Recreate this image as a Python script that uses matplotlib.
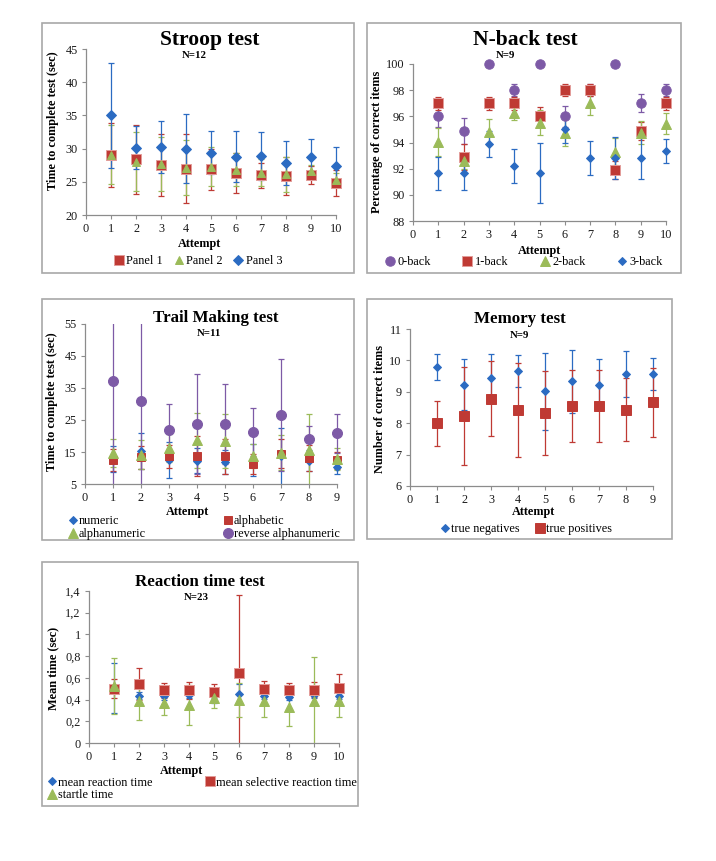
import matplotlib
matplotlib.use('Agg')
import matplotlib.pyplot as plt
from matplotlib.patches import Rectangle
from matplotlib.lines import Line2D

W, H = 716, 861
plt.rcParams['font.family'] = ['Liberation Serif', 'DejaVu Serif']

# ---------------- data ----------------
stroop_x = [1, 2, 3, 4, 5, 6, 7, 8, 9, 10]
stroop_p1 = [29.0, 28.4, 27.55, 27.0, 26.9, 26.3, 26.0, 25.9, 26.0, 24.8]
stroop_p1_err = [4.8, 5.2, 4.65, 5.2, 3.1, 3.0, 1.9, 2.9, 1.4, 2.0]
stroop_p2 = [29.1, 28.05, 27.65, 27.15, 27.3, 26.8, 26.4, 26.1, 26.6, 25.25]
stroop_p2_err = [4.5, 4.4, 4.1, 4.2, 2.9, 2.5, 2.0, 2.6, 1.0, 1.1]
stroop_p3 = [35.0, 30.15, 30.25, 29.95, 29.4, 28.8, 28.85, 27.8, 28.7, 27.35]
stroop_p3_err = [7.9, 3.2, 3.9, 5.2, 3.2, 3.8, 3.6, 3.3, 2.7, 2.9]

nback_x = [1, 2, 3, 4, 5, 6, 7, 8, 9, 10]
nback_0 = [96.0, 94.9, 100, 98.0, 100, 96.0, 98.0, 100, 97.0, 98.0]
nback_0_err = [0.8, 1.0, 0, 0.45, 0, 0.8, 0.45, 0, 0.7, 0.45]
nback_1 = [97.0, 92.9, 97.0, 97.0, 96.0, 98.0, 98.0, 91.9, 94.9, 97.0]
nback_1_err = [0.5, 1.0, 0.5, 0.5, 0.75, 0.45, 0.45, 0.7, 0.7, 0.5]
nback_2 = [94.05, 92.6, 94.8, 96.25, 95.5, 94.75, 97.05, 93.3, 94.75, 95.45]
nback_2_err = [1.05, 0.6, 1.0, 0.5, 0.95, 1.05, 0.95, 1.05, 0.9, 0.8]
nback_3 = [91.65, 91.65, 93.9, 92.2, 91.65, 95.0, 92.8, 92.8, 92.8, 93.35]
nback_3_err = [1.25, 1.25, 1.0, 1.3, 2.3, 1.0, 1.3, 1.6, 1.6, 0.95]

trail_x = [1, 2, 3, 4, 5, 6, 7, 8, 9]
trail_numeric = [12.9, 15.3, 12.5, 12.3, 11.8, 12.5, 13.6, 12.3, 10.4]
trail_numeric_err = [4.0, 5.6, 5.5, 4.0, 3.7, 5.0, 8.9, 3.3, 2.3]
trail_alphabetic = [12.6, 13.3, 13.6, 13.8, 13.6, 11.2, 14.5, 13.2, 12.4]
trail_alphabetic_err = [3.4, 3.7, 3.7, 6.2, 5.6, 3.2, 4.6, 4.1, 2.6]
trail_alphanumeric = [14.6, 14.2, 16.2, 18.6, 18.4, 13.8, 14.8, 15.7, 12.8]
trail_alphanumeric_err = [4.4, 4.5, 4.3, 8.7, 8.4, 3.8, 5.4, 11.2, 3.3]
trail_reverse = [37.3, 30.8, 22.0, 23.8, 23.8, 21.3, 26.6, 19.0, 20.8]
trail_reverse_err = [33.0, 28.0, 8.1, 15.7, 12.5, 7.4, 17.6, 4.0, 6.0]

memory_x = [1, 2, 3, 4, 5, 6, 7, 8, 9]
memory_tn = [9.79, 9.23, 9.44, 9.66, 9.01, 9.33, 9.23, 9.58, 9.57]
memory_tn_err = [0.42, 0.8, 0.75, 0.51, 1.23, 0.99, 0.81, 0.73, 0.52]
memory_tp = [8.0, 8.23, 8.78, 8.43, 8.32, 8.55, 8.55, 8.43, 8.67]
memory_tp_err = [0.72, 1.56, 1.2, 1.5, 1.33, 1.15, 1.15, 1.0, 1.1]

react_x = [1, 2, 3, 4, 5, 6, 7, 8, 9, 10]
react_mean = [0.51, 0.437, 0.43, 0.44, 0.437, 0.455, 0.435, 0.425, 0.44, 0.435]
react_mean_err = [0.23, 0.03, 0.03, 0.03, 0.07, 0.085, 0.03, 0.03, 0.03, 0.03]
react_sel = [0.50, 0.545, 0.485, 0.485, 0.47, 0.645, 0.50, 0.485, 0.49, 0.505]
react_sel_err = [0.09, 0.145, 0.07, 0.08, 0.07, 0.72, 0.07, 0.07, 0.07, 0.13]
react_startle = [0.525, 0.385, 0.37, 0.35, 0.41, 0.395, 0.385, 0.33, 0.385, 0.39]
react_startle_err = [0.26, 0.17, 0.115, 0.18, 0.09, 0.16, 0.145, 0.17, 0.41, 0.15]
react_yticks = [0, 0.2, 0.4, 0.6, 0.8, 1.0, 1.2, 1.4]
react_yticklabels = ['0', '0,2', '0,4', '0,6', '0,8', '1', '1,2', '1,4']

# ---------------- style ----------------
RED = '#BF3A34'
RED_EDGE = '#E39C99'
GREEN = '#9BBB59'
BLUE = '#2B6BC2'
PURPLE = '#7D5AA6'
AXC = '#8C8C8C'
FS = 8.8

fig = plt.figure(figsize=(W / 100, H / 100), dpi=100)


def fx(x):
    return x / W


def fy(y):
    return 1 - y / H


def panel_box(x0, y0, x1, y1):
    fig.patches.append(Rectangle((fx(x0), fy(y1)), fx(x1) - fx(x0), fy(y0) - fy(y1),
                                 transform=fig.transFigure, fill=False,
                                 ec='#A8A8A8', lw=1.2))


def make_axes(l, t, r, b):
    ax = fig.add_axes([fx(l), fy(b), fx(r) - fx(l), fy(t) - fy(b)])
    for s in ['top', 'right']:
        ax.spines[s].set_visible(False)
    for s in ['left', 'bottom']:
        ax.spines[s].set_color(AXC)
        ax.spines[s].set_linewidth(0.9)
    ax.tick_params(direction='out', length=3, width=0.8, color=AXC,
                   labelsize=FS, pad=3, labelcolor='#1a1a1a')
    ax.patch.set_alpha(0)
    return ax


def series(ax, x, y, err, color, marker, ms, mec=None):
    eb = ax.errorbar(x, y, yerr=err, fmt='none', ecolor=color, elinewidth=0.9,
                     capsize=2.3, capthick=0.9, zorder=2)
    clip = Rectangle((-0.1, 0), 1.2, 1.0, transform=ax.transAxes)
    for art in list(eb.lines[1]) + list(eb.lines[2]):
        art.set_clip_path(clip)
    ax.plot(x, y, ls='none', marker=marker, color=color, ms=ms,
            mec=mec or color, mew=0.7, zorder=3, clip_on=False)


def handle(color, marker, ms, mec=None):
    return Line2D([], [], ls='none', marker=marker, color=color, ms=ms,
                  mec=mec or color, mew=0.7)


def texts(title, tsize, tpos, n, npos, xlpos, ylab, ylpos):
    fig.text(fx(tpos[0]), fy(tpos[1]), title, ha='center', va='center',
             fontsize=tsize, fontweight='bold')
    fig.text(fx(npos[0]), fy(npos[1]), n, ha='center', va='center',
             fontsize=7.8, fontweight='bold')
    fig.text(fx(xlpos[0]), fy(xlpos[1]), 'Attempt', ha='center', va='center',
             fontsize=FS, fontweight='bold')
    fig.text(fx(ylpos[0]), fy(ylpos[1]), ylab, ha='center', va='center',
             fontsize=FS, fontweight='bold', rotation=90)


# ---------------- Stroop ----------------
panel_box(42, 23, 354, 273)
ax = make_axes(86, 49, 336, 215)
series(ax, stroop_x, stroop_p1, stroop_p1_err, RED, 's', 6.5, RED_EDGE)
series(ax, stroop_x, stroop_p2, stroop_p2_err, GREEN, '^', 6.0)
series(ax, stroop_x, stroop_p3, stroop_p3_err, BLUE, 'D', 4.6)
ax.set_xlim(0, 10)
ax.set_ylim(20, 45)
ax.set_xticks(range(0, 11))
ax.set_yticks(range(20, 46, 5))
texts('Stroop test', 15.5, (210, 40), 'N=12', (194, 55), (200, 244),
      'Time to complete test (sec)', (53, 121))
fig.legend([handle(RED, 's', 6.5, RED_EDGE), handle(GREEN, '^', 6.0), handle(BLUE, 'D', 4.6)],
           ['Panel 1', 'Panel 2', 'Panel 3'], loc='center',
           bbox_to_anchor=(fx(198), fy(261)), ncol=3, frameon=False,
           fontsize=FS, handlelength=0.8, handletextpad=0.2, columnspacing=0.9,
           borderpad=0, borderaxespad=0)

# ---------------- N-back ----------------
panel_box(367, 23, 681, 273)
ax = make_axes(413, 64, 666, 221)
series(ax, nback_x, nback_0, nback_0_err, PURPLE, 'o', 6.8)
series(ax, nback_x, nback_1, nback_1_err, RED, 's', 7.0, RED_EDGE)
series(ax, nback_x, nback_2, nback_2_err, GREEN, '^', 6.5)
series(ax, nback_x, nback_3, nback_3_err, BLUE, 'D', 4.0)
ax.set_xlim(0, 10)
ax.set_ylim(88, 100)
ax.set_xticks(range(0, 11))
ax.set_yticks(range(88, 101, 2))
texts('N-back test', 15.5, (525, 40), 'N=9', (505, 55), (540, 251),
      'Percentage of correct items', (377, 142))
fig.legend([handle(PURPLE, 'o', 6.8), handle(RED, 's', 7.0, RED_EDGE),
            handle(GREEN, '^', 6.5), handle(BLUE, 'D', 4.0)],
           ['0-back', '1-back', '2-back', '3-back'], loc='center',
           bbox_to_anchor=(fx(524), fy(262)), ncol=4, frameon=False,
           fontsize=FS, handlelength=0.8, handletextpad=0.2, columnspacing=2.6,
           borderpad=0, borderaxespad=0)

# ---------------- Trail Making ----------------
panel_box(42, 299, 354, 540)
ax = make_axes(85, 324, 337, 484)
series(ax, trail_x, trail_numeric, trail_numeric_err, BLUE, 'D', 3.8)
series(ax, trail_x, trail_alphabetic, trail_alphabetic_err, RED, 's', 6.3)
series(ax, trail_x, trail_alphanumeric, trail_alphanumeric_err, GREEN, '^', 6.5)
series(ax, trail_x, trail_reverse, trail_reverse_err, PURPLE, 'o', 7.2)
ax.set_xlim(0, 9)
ax.set_ylim(5, 55)
ax.set_xticks(range(0, 10))
ax.set_yticks(range(5, 56, 10))
texts('Trail Making test', 12.2, (216, 318), 'N=11', (209, 334), (187, 512),
      'Time to complete test (sec)', (52, 402))
fig.legend([handle(BLUE, 'D', 3.8), handle(GREEN, '^', 6.5),
            handle(RED, 's', 6.3), handle(PURPLE, 'o', 7.2)],
           ['numeric', 'alphanumeric', 'alphabetic', 'reverse alphanumeric'],
           loc='center', bbox_to_anchor=(fx(204), fy(527.5)), ncol=2,
           frameon=False, fontsize=FS, handlelength=0.8, handletextpad=0.1,
           columnspacing=6.3, labelspacing=0.05, borderpad=0, borderaxespad=0)

# ---------------- Memory ----------------
panel_box(367, 299, 672, 539)
ax = make_axes(410, 329, 653, 486)
series(ax, memory_x, memory_tn, memory_tn_err, BLUE, 'D', 4.4)
series(ax, memory_x, memory_tp, memory_tp_err, RED, 's', 7.0)
ax.set_xlim(0, 9)
ax.set_ylim(6, 11)
ax.set_xticks(range(0, 10))
ax.set_yticks(range(6, 12))
texts('Memory test', 12.2, (520, 319), 'N=9', (519, 335), (534, 512),
      'Number of correct items', (380, 409))
fig.legend([handle(BLUE, 'D', 4.4), handle(RED, 's', 7.0)],
           ['true negatives', 'true positives'], loc='center',
           bbox_to_anchor=(fx(526), fy(529)), ncol=2, frameon=False,
           fontsize=FS, handlelength=0.8, handletextpad=0.15, columnspacing=1.2,
           borderpad=0, borderaxespad=0)

# ---------------- Reaction time ----------------
panel_box(42, 562, 358, 806)
ax = make_axes(89, 591, 339, 743)
series(ax, react_x, react_mean, react_mean_err, BLUE, 'D', 4.2)
series(ax, react_x, react_sel, react_sel_err, RED, 's', 6.8, RED_EDGE)
series(ax, react_x, react_startle, react_startle_err, GREEN, '^', 6.5)
ax.set_xlim(0, 10)
ax.set_ylim(0, 1.4)
ax.set_xticks(range(0, 11))
ax.set_yticks(react_yticks)
ax.set_yticklabels(react_yticklabels)
texts('Reaction time test', 12.2, (200, 582), 'N=23', (196, 597), (182, 771),
      'Mean time (sec)', (53, 668))
fig.legend([handle(BLUE, 'D', 4.2), handle(GREEN, '^', 6.5), handle(RED, 's', 6.8, RED_EDGE)],
           ['mean reaction time', 'startle time', 'mean selective reaction time'],
           loc='center', bbox_to_anchor=(fx(202), fy(789)), ncol=2,
           frameon=False, fontsize=FS, handlelength=0.8, handletextpad=0.1,
           columnspacing=4.3, labelspacing=0.05, borderpad=0, borderaxespad=0)

fig.savefig('out.png', dpi=100, facecolor='white')
